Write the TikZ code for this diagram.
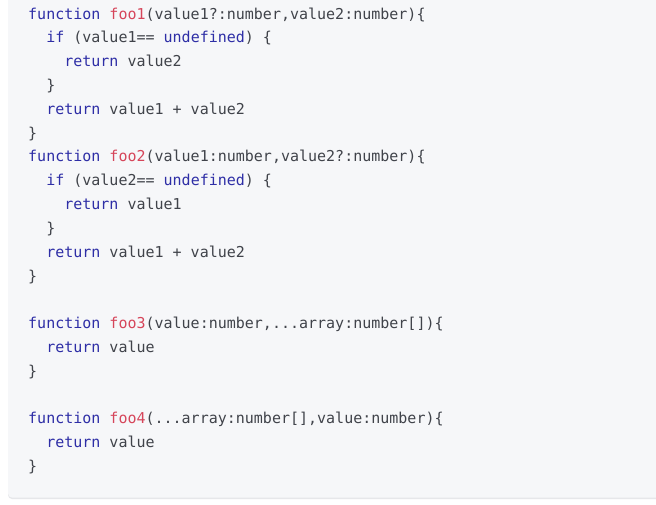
\documentclass[tikz,border=0pt]{standalone}
\usepackage{fontspec}
\setmonofont{DejaVu Sans Mono}
\definecolor{codebg}{HTML}{F6F7F9}
\definecolor{codeshadow}{HTML}{E6E7EA}
\definecolor{kwcol}{HTML}{2E2EA6}
\definecolor{fncol}{HTML}{D6455A}
\definecolor{txtcol}{HTML}{40434A}
\newcommand\kwd[1]{\textcolor{kwcol}{#1}}
\newcommand\fnm[1]{\textcolor{fncol}{#1}}
\tikzset{
  codeline/.style={anchor=base west, inner sep=0pt, text=txtcol,
    font=\ttfamily\fontsize{15pt}{18pt}\selectfont},
}
\begin{document}
\begin{tikzpicture}[x=1pt,y=-1pt]
\useasboundingbox (0,0) rectangle (656,504);
\fill[white] (0,0) rectangle (656,504);
\fill[codeshadow, rounded corners=4pt] (8,-6) rectangle (662,499);
\fill[codebg, rounded corners=4pt] (8,-6) rectangle (662,497.5);
\def\lh{23.82}
\def\bx{28}
\def\cw{9.03}
\newcommand\cl[4]{\node[codeline] (#1) at (\bx+#2*\cw, 19+#3*\lh) {#4};}
\cl{l0}{0}{0}{\kwd{function} \fnm{foo1}(value1?:number,value2:number)\{}
\cl{l1}{2}{1}{\kwd{if} (value1== \kwd{undefined}) \{}
\cl{l2}{4}{2}{\kwd{return} value2}
\cl{l3}{2}{3}{\}}
\cl{l4}{2}{4}{\kwd{return} value1 + value2}
\cl{l5}{0}{5}{\}}
\cl{l6}{0}{6}{\kwd{function} \fnm{foo2}(value1:number,value2?:number)\{}
\cl{l7}{2}{7}{\kwd{if} (value2== \kwd{undefined}) \{}
\cl{l8}{4}{8}{\kwd{return} value1}
\cl{l9}{2}{9}{\}}
\cl{l10}{2}{10}{\kwd{return} value1 + value2}
\cl{l11}{0}{11}{\}}
\cl{l13}{0}{13}{\kwd{function} \fnm{foo3}(value:number,...array:number[])\{}
\cl{l14}{2}{14}{\kwd{return} value}
\cl{l15}{0}{15}{\}}
\cl{l17}{0}{17}{\kwd{function} \fnm{foo4}(...array:number[],value:number)\{}
\cl{l18}{2}{18}{\kwd{return} value}
\cl{l19}{0}{19}{\}}
\end{tikzpicture}
\end{document}
